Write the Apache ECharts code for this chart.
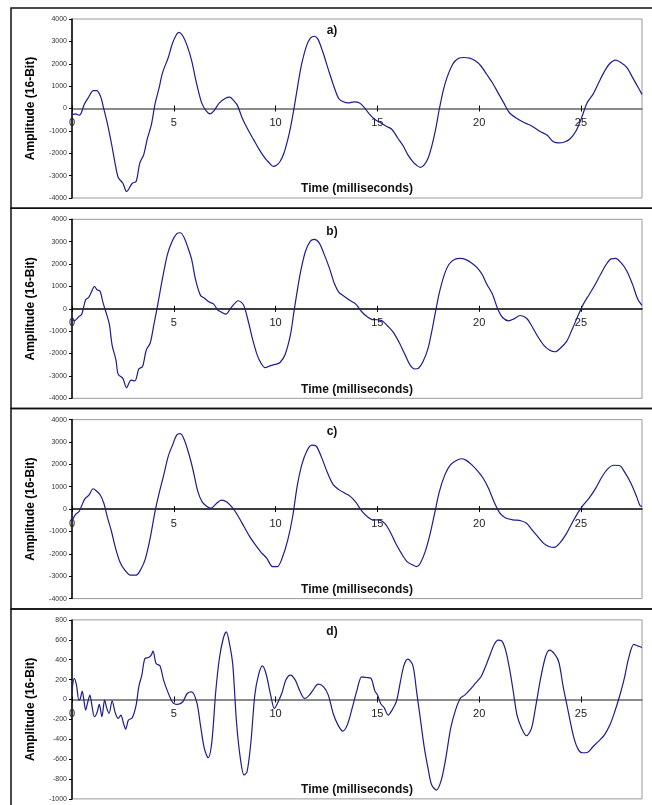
<!DOCTYPE html>
<html>
<head>
<meta charset="utf-8">
<script src="https://cdn.jsdelivr.net/npm/echarts@6/dist/echarts.min.js"></script>
<style>
  html, body { margin: 0; padding: 0; background: #fff; }
  #chart { width: 652px; height: 805px; }
</style>
</head>
<body>
<div id="chart"></div>
<script>
// panel a)
const tA = [0, 0.17, 0.35, 0.45, 0.6, 0.8, 1.05, 1.2, 1.4, 1.55, 1.75, 1.95, 2.1, 2.27, 2.5, 2.68, 2.96, 3.15, 3.33, 3.52, 3.7, 3.9, 4.08, 4.26, 4.45, 4.73, 4.92, 5.1, 5.25, 5.44, 5.66, 5.88, 6.13, 6.37, 6.6, 6.78, 6.96, 7.24, 7.52, 7.75, 7.9, 8.12, 8.36, 8.64, 8.92, 9.2, 9.48, 9.66, 9.89, 10.04, 10.22, 10.41, 10.6, 10.73, 10.91, 11.1, 11.28, 11.52, 11.71, 11.9, 12.08, 12.33, 12.59, 12.83, 13.1, 13.33, 13.57, 13.85, 14.13, 14.37, 14.6, 14.88, 15.16, 15.44, 15.72, 16.0, 16.28, 16.5, 16.74, 16.93, 17.11, 17.3, 17.49, 17.67, 17.86, 18.04, 18.23, 18.42, 18.7, 18.97, 19.25, 19.53, 19.81, 20.09, 20.37, 20.65, 20.93, 21.21, 21.49, 21.86, 22.23, 22.6, 22.98, 23.35, 23.63, 23.91, 24.19, 24.47, 24.75, 25.03, 25.3, 25.59, 25.87, 26.15, 26.42, 26.7, 26.98, 27.26, 27.54, 27.82, 28.0]
const ampA = [-280, -240, -300, -210, 180, 480, 800, 800, 550, 30, -720, -1620, -2370, -3080, -3340, -3710, -3340, -3260, -2440, -2070, -1350, -720, 210, 850, 1600, 2280, 2870, 3250, 3400, 3250, 2800, 2130, 1080, 250, -120, -240, -120, 250, 450, 510, 400, 150, -420, -940, -1390, -1840, -2220, -2400, -2590, -2540, -2370, -2000, -1390, -870, 30, 1080, 1980, 2800, 3140, 3230, 3100, 2500, 1750, 1080, 450, 300, 250, 300, 250, 30, -240, -490, -640, -790, -940, -1320, -1690, -2070, -2370, -2540, -2630, -2520, -2220, -1690, -940, -45, 780, 1380, 1980, 2230, 2280, 2250, 2130, 1900, 1530, 1150, 700, 250, -190, -450, -640, -790, -1020, -1200, -1470, -1540, -1500, -1350, -1020, -420, 250, 630, 1150, 1650, 2010, 2160, 2050, 1830, 1380, 930, 630]

// panel b)
const tB = [0, 0.11, 0.35, 0.48, 0.67, 0.82, 0.97, 1.1, 1.23, 1.38, 1.53, 1.71, 1.84, 1.97, 2.16, 2.27, 2.5, 2.68, 2.9, 3.09, 3.28, 3.46, 3.65, 3.84, 4.02, 4.21, 4.45, 4.69, 4.92, 5.14, 5.32, 5.51, 5.7, 5.88, 6.07, 6.31, 6.5, 6.74, 6.96, 7.15, 7.34, 7.56, 7.8, 8.17, 8.42, 8.64, 8.86, 9.1, 9.29, 9.48, 9.76, 10.04, 10.22, 10.47, 10.73, 10.88, 11.06, 11.25, 11.47, 11.71, 11.9, 12.14, 12.36, 12.64, 12.88, 13.1, 13.38, 13.66, 13.94, 14.22, 14.5, 14.75, 15.01, 15.25, 15.53, 15.81, 16.09, 16.37, 16.61, 16.84, 17.02, 17.24, 17.49, 17.67, 17.86, 18.04, 18.29, 18.51, 18.79, 19.07, 19.35, 19.63, 19.91, 20.15, 20.37, 20.65, 20.93, 21.15, 21.45, 21.71, 22.01, 22.33, 22.6, 22.88, 23.17, 23.45, 23.73, 24.01, 24.29, 24.56, 24.84, 25.12, 25.4, 25.68, 25.96, 26.24, 26.48, 26.7, 26.98, 27.26, 27.54, 27.78, 28.0]
const ampB = [-350, -540, -340, -240, 400, 510, 780, 1000, 850, 780, 250, -270, -720, -1620, -2290, -2930, -3110, -3530, -3190, -3220, -2690, -2590, -1840, -1540, -720, 180, 1380, 2430, 3020, 3350, 3400, 3180, 2720, 2200, 1300, 600, 480, 300, 210, -45, -150, -240, 30, 360, 180, -490, -1320, -2070, -2440, -2630, -2540, -2470, -2400, -2040, -1170, -270, 780, 1750, 2570, 3020, 3100, 2950, 2500, 1830, 1150, 750, 550, 370, 210, -120, -360, -480, -490, -540, -790, -1090, -1540, -2070, -2520, -2690, -2660, -2370, -1770, -1020, -120, 700, 1530, 1980, 2200, 2250, 2200, 2050, 1830, 1530, 1110, 660, -45, -390, -540, -450, -300, -420, -790, -1240, -1620, -1840, -1920, -1740, -1470, -940, -340, 210, 630, 1050, 1530, 1980, 2230, 2250, 2050, 1680, 1080, 450, 150]

// panel c)
const tC = [0, 0.17, 0.35, 0.48, 0.63, 0.82, 1.04, 1.19, 1.38, 1.56, 1.75, 1.94, 2.12, 2.35, 2.59, 2.87, 3.15, 3.39, 3.61, 3.84, 4.08, 4.26, 4.51, 4.73, 4.95, 5.14, 5.32, 5.51, 5.75, 5.94, 6.18, 6.4, 6.63, 6.82, 7.06, 7.34, 7.62, 7.9, 8.17, 8.45, 8.73, 9.01, 9.29, 9.57, 9.85, 10.09, 10.32, 10.6, 10.84, 11.06, 11.29, 11.53, 11.77, 11.99, 12.27, 12.55, 12.83, 13.11, 13.39, 13.67, 13.94, 14.22, 14.5, 14.78, 15.06, 15.35, 15.62, 15.9, 16.18, 16.46, 16.74, 16.93, 17.11, 17.35, 17.58, 17.8, 18.04, 18.32, 18.6, 18.88, 19.1, 19.35, 19.63, 19.91, 20.19, 20.47, 20.74, 21.02, 21.3, 21.67, 22.05, 22.33, 22.6, 22.88, 23.17, 23.45, 23.69, 23.95, 24.25, 24.56, 24.84, 25.12, 25.4, 25.73, 26.05, 26.33, 26.61, 26.89, 27.17, 27.45, 27.73, 27.9, 28.0]
const ampC = [-520, -250, -100, 160, 460, 610, 910, 820, 640, 270, -400, -1000, -1680, -2350, -2720, -2950, -2950, -2680, -2200, -1300, -100, 640, 1540, 2370, 2890, 3310, 3370, 3110, 2440, 1770, 790, 310, 120, 40, 220, 400, 310, 40, -330, -780, -1230, -1600, -1930, -2200, -2570, -2570, -2200, -1380, -330, 1020, 1990, 2590, 2860, 2820, 2290, 1620, 1090, 870, 720, 570, 310, -70, -330, -480, -480, -630, -1000, -1530, -1980, -2350, -2500, -2570, -2420, -1900, -1150, -250, 760, 1540, 1990, 2170, 2250, 2190, 1990, 1720, 1390, 910, 310, -180, -400, -480, -520, -630, -930, -1230, -1530, -1680, -1710, -1530, -1150, -630, -180, 190, 490, 940, 1470, 1810, 1960, 1950, 1620, 1170, 570, 160, 120]

// panel d)
const tD = [0, 0.11, 0.22, 0.34, 0.41, 0.5, 0.6, 0.67, 0.78, 0.88, 0.97, 1.1, 1.23, 1.34, 1.47, 1.6, 1.71, 1.82, 1.97, 2.12, 2.27, 2.4, 2.53, 2.64, 2.77, 2.96, 3.15, 3.28, 3.43, 3.58, 3.76, 3.89, 3.98, 4.13, 4.32, 4.5, 4.69, 4.88, 5.0, 5.2, 5.44, 5.66, 5.88, 6.13, 6.31, 6.5, 6.69, 6.87, 7.06, 7.24, 7.43, 7.58, 7.75, 7.9, 8.08, 8.27, 8.45, 8.6, 8.79, 8.98, 9.16, 9.35, 9.53, 9.76, 9.94, 10.09, 10.32, 10.5, 10.73, 10.97, 11.21, 11.43, 11.66, 11.84, 12.09, 12.36, 12.59, 12.83, 13.07, 13.3, 13.52, 13.76, 14.0, 14.23, 14.45, 14.69, 14.88, 15.01, 15.16, 15.34, 15.53, 15.72, 15.94, 16.13, 16.31, 16.5, 16.74, 16.93, 17.11, 17.3, 17.49, 17.67, 17.9, 18.14, 18.36, 18.6, 18.84, 19.07, 19.29, 19.53, 19.81, 20.09, 20.34, 20.56, 20.74, 20.93, 21.12, 21.3, 21.49, 21.68, 21.86, 22.09, 22.33, 22.57, 22.79, 23.02, 23.26, 23.45, 23.69, 23.91, 24.13, 24.38, 24.62, 24.84, 25.06, 25.31, 25.59, 25.87, 26.15, 26.42, 26.66, 26.89, 27.11, 27.36, 27.6, 27.78, 28.0]
const ampD = [84, 211, 144, -7, 10, 84, -30, -107, -23, 44, -50, -174, -131, -50, -174, -7, -90, -141, -13, -131, -191, -157, -241, -298, -208, -184, -57, 127, 245, 412, 422, 445, 486, 362, 338, 194, 84, -7, -40, -50, -23, 60, 77, -30, -258, -492, -586, -425, 77, 412, 613, 680, 546, 345, -224, -593, -760, -727, -425, 44, 245, 338, 261, 44, -90, -40, 70, 194, 245, 194, 77, 10, 44, 94, 154, 127, 44, -141, -258, -318, -258, -90, 94, 228, 221, 211, 84, 44, -40, -84, -157, -107, -17, 178, 345, 405, 345, 77, -191, -476, -693, -861, -911, -811, -593, -291, -107, 10, 44, 94, 161, 228, 345, 462, 553, 596, 586, 496, 312, 77, -157, -291, -365, -291, -57, 211, 429, 496, 462, 379, 127, -124, -358, -492, -536, -533, -476, -419, -358, -258, -124, 27, 194, 429, 553, 539, 523]

const panelNames = ['a)', 'b)', 'c)', 'd)']
const yRanges = [[-4000, 4000, 1000], [-4000, 4000, 1000], [-4000, 4000, 1000], [-1000, 800, 200]]
const xTicks = [0, 5, 10, 15, 20, 25]
const zeroLineColors = ['#666', '#000', '#000', '#666']
const times = [tA, tB, tC, tD]
const amps = [ampA, ampB, ampC, ampD]

const font = 'Liberation Sans, Arial, sans-serif'
const plotLeft = 72
const plotWidth = 570
const plotHeight = 179
const pitch = 200.3

let grid = []
let xAxis = []
let yAxis = []
let series = []
let graphic = []

for (let i = 0; i < 4; i++) {
    let top = 19 + i * pitch
    let yMin = yRanges[i][0]
    let yMax = yRanges[i][1]
    // pixel distance from plot top down to the zero line
    let zeroOff = plotHeight * yMax / (yMax - yMin)

    // main grid: plot area with the curve and the y axis
    grid.push({ left: plotLeft, top: top, width: plotWidth, height: plotHeight, show: true, borderColor: '#999', borderWidth: 1 })
    // upper helper grid: its bottom edge is the zero line (axis line, ticks down, labels)
    grid.push({ left: plotLeft, top: top, width: plotWidth, height: zeroOff })
    // lower helper grid: its top edge is the zero line (ticks up)
    grid.push({ left: plotLeft, top: top + zeroOff, width: plotWidth, height: plotHeight - zeroOff })

    xAxis.push({ type: 'value', gridIndex: i * 3, min: 0, max: 28, show: false })
    xAxis.push({
        type: 'value',
        gridIndex: i * 3 + 1,
        position: 'bottom',
        min: 0,
        max: 28,
        interval: 5,
        axisLine: { onZero: false, lineStyle: { color: zeroLineColors[i], width: 1.5 } },
        axisTick: { show: true, length: 3, customValues: xTicks, lineStyle: { color: '#000' } },
        axisLabel: { fontFamily: font, fontSize: 11, color: '#222', margin: 9, customValues: xTicks },
        splitLine: { show: false },
    })
    xAxis.push({
        type: 'value',
        gridIndex: i * 3 + 2,
        position: 'top',
        min: 0,
        max: 28,
        interval: 5,
        axisLine: { show: false, onZero: false },
        axisTick: { show: true, length: 3, customValues: xTicks, lineStyle: { color: '#000' } },
        axisLabel: { show: false },
        splitLine: { show: false },
    })

    yAxis.push({
        type: 'value',
        gridIndex: i * 3,
        min: yMin,
        max: yMax,
        interval: yRanges[i][2],
        name: 'Amplitude (16-Bit)',
        nameLocation: 'middle',
        nameGap: 35,
        nameTextStyle: { fontFamily: font, fontSize: 12, fontWeight: 'bold', color: '#000' },
        axisLine: { show: true, onZero: false, lineStyle: { color: '#000', width: 1.5 } },
        axisTick: { show: true, length: 3, lineStyle: { color: '#000' } },
        axisLabel: { fontFamily: font, fontSize: 7, color: '#333', margin: 5, formatter: (v) => String(v) },
        splitLine: { show: false },
    })
    yAxis.push({ type: 'value', gridIndex: i * 3 + 1, min: 0, max: 1, show: false })
    yAxis.push({ type: 'value', gridIndex: i * 3 + 2, min: 0, max: 1, show: false })

    series.push({
        type: 'line',
        xAxisIndex: i * 3,
        yAxisIndex: i * 3,
        showSymbol: false,
        smooth: 0.3,
        animation: false,
        lineStyle: { color: '#1c1c8f', width: 1.2 },
        data: times[i].map((t, k) => [t, amps[i][k]]),
    })

    // panel frame
    graphic.push({
        type: 'rect',
        shape: { x: 11, y: 8 + i * pitch, width: 700, height: pitch },
        style: { fill: 'none', stroke: '#111', lineWidth: 1.5 },
        silent: true,
    })
    graphic.push({
        type: 'text',
        x: 332,
        y: top + 12,
        style: { text: panelNames[i], font: 'bold 12px ' + font, fill: '#111', textAlign: 'center', textVerticalAlign: 'middle' },
    })
    graphic.push({
        type: 'text',
        x: plotLeft + plotWidth / 2,
        y: top + 170,
        style: { text: 'Time (milliseconds)', font: 'bold 12px ' + font, fill: '#111', textAlign: 'center', textVerticalAlign: 'middle' },
    })
}

let myChart = echarts.init(document.getElementById('chart'))
myChart.setOption({
    animation: false,
    grid: grid,
    xAxis: xAxis,
    yAxis: yAxis,
    series: series,
    graphic: graphic,
})
</script>
</body>
</html>
